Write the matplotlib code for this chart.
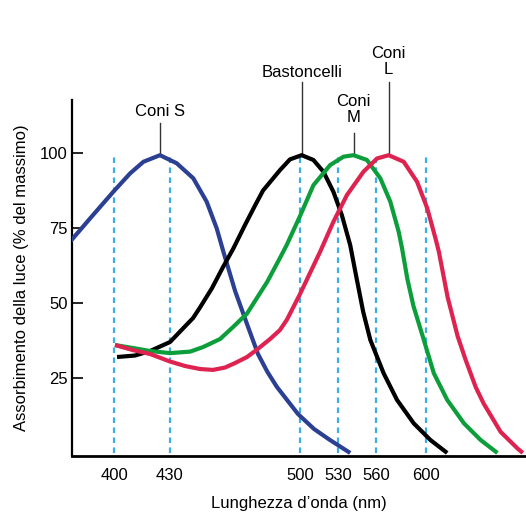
import numpy as np
import matplotlib.pyplot as plt

plt.rcParams['font.family'] = ['Liberation Sans', 'DejaVu Sans']

# Valori (lunghezza d'onda in nm, assorbimento in % del massimo)
coni_s_nm = [376.3, 387.1, 399.6, 408.6, 415.8, 424.7, 433.7, 442.6, 449.8,
             455.2, 458.8, 465.1, 471.5, 477.4, 482.5, 487.6, 498.9, 511.1,
             523.8, 539.7]
coni_s_val = [70.4, 78.2, 87.1, 93.2, 97.1, 99.3, 96.6, 91.6, 83.8, 74.9, 67.1,
              54, 43, 33, 27, 22, 13, 8, 4.3, 0]

bast_nm = [401.6, 411.3, 419.4, 430.1, 435.5, 442.5, 446.2, 452.7, 458.6,
           464.0, 470.4, 475.8, 480.1, 489.2, 494.6, 501.3, 510.6, 518.5,
           526.4, 533.1, 539.7, 544.4, 550, 555.6, 566.1, 576.7, 589.9, 603.2,
           616.4]
bast_val = [32, 32.5, 34, 37, 40.5, 45, 48.5, 55, 62, 68, 76, 82.5, 87.5, 94.3,
            97.9, 99.3, 97.7, 93.8, 87.1, 79.3, 69.3, 59, 47, 37.7, 26.6, 17.7,
            9.9, 4.3, 0]

coni_m_nm = [400.5, 410.2, 419.4, 430.1, 440.9, 447.8, 457.0, 464.0, 471.5,
             482.3, 489.2, 492.8, 500, 510.6, 523.8, 534.4, 542.3, 552.9,
             563.5, 571.4, 578.0, 580.7, 584.9, 589.7, 597.9, 605.8, 616.4,
             629.6, 642.9, 656.1]
coni_m_val = [36, 35, 34, 33.3, 33.8, 35.3, 38, 42, 46.5, 57, 65, 69.3, 79,
              89.3, 96, 98.8, 99.3, 97.7, 91.6, 83.8, 73.8, 68.2, 58, 49, 37.7,
              26.6, 17.7, 9.9, 4.3, 0]

coni_l_nm = [400.5, 410.2, 419.4, 430.1, 438.2, 446.2, 453.2, 459.7, 465.1,
             471.5, 476.9, 483.9, 489.2, 493.0, 500, 515.9, 526.4, 537.1,
             550.2, 560.9, 570.1, 582.0, 592.6, 600.6, 607.1, 609.8, 616.7,
             624.6, 631.0, 638.9, 645.2, 658.7, 672.0, 676.2]
coni_l_val = [36, 34.3, 33, 30.5, 29, 28, 27.7, 28.5, 30, 32, 34.5, 38, 41,
              44.5, 53, 67.1, 77.1, 86, 93.8, 98.2, 99.3, 97.1, 90.4, 81.6,
              71.6, 67.1, 52, 39, 31, 22, 16.5, 7, 1.5, 0]

tick_nm = [400, 430, 500, 530, 560, 600]
y_ticks = [25, 50, 75, 100]

labels = ['Coni S', 'Bastoncelli', 'Coni\nM', 'Coni\nL']
peak_nm = [424.7, 501.3, 542.3, 570.1]
leader_top = [110, 123.7, 106.7, 123.7]
label_y = [113.7, 127, 114.5, 130.5]


def forward(x):
    x = np.asarray(x, dtype=float)
    return np.where(x <= 500, x, 500 + (x - 500) * 0.68)


def inverse(p):
    p = np.asarray(p, dtype=float)
    return np.where(p <= 500, p, 500 + (p - 500) / 0.68)


fig = plt.figure(figsize=(5.26, 5.12), dpi=100)
ax = fig.add_axes([0.1369, 0.1094, 0.8631, 0.6953])
ax.set_xscale('function', functions=(forward, inverse))

for t in tick_nm:
    ax.plot([t, t], [0, 100], color='#3aaee6', lw=1.6, ls=(0, (2.5, 2)), zorder=1)

series = [(coni_s_nm, coni_s_val, '#2b3f93'),
          (bast_nm, bast_val, 'black'),
          (coni_m_nm, coni_m_val, '#0d9e3c'),
          (coni_l_nm, coni_l_val, '#de2350')]
for xs, ys, c in series:
    ax.plot(xs, ys, color=c, lw=3, solid_capstyle='butt',
            solid_joinstyle='round', zorder=3)

for lab, px, top, ty in zip(labels, peak_nm, leader_top, label_y):
    ax.plot([px, px], [99.3, top], color='#333333', lw=1, clip_on=False, zorder=2)
    ax.text(px, ty, lab, ha='center', va='center', fontsize=12,
            linespacing=1.05, clip_on=False)

ax.set_xlim(377.4, 678.7)
ax.set_ylim(-1, 117.7)
ax.set_xticks(tick_nm)
ax.set_xticklabels([str(t) for t in tick_nm])
ax.set_yticks(y_ticks)
ax.xaxis.set_minor_locator(plt.NullLocator())
ax.tick_params(axis='x', length=0, pad=9, labelsize=12)
ax.tick_params(axis='y', direction='in', length=8, width=1.2, pad=3, labelsize=12)

for s in ['top', 'right']:
    ax.spines[s].set_visible(False)
ax.spines['left'].set_linewidth(1.6)
ax.spines['bottom'].set_linewidth(2)

ax.set_xlabel("Lunghezza d\u2019onda (nm)", fontsize=12, labelpad=9)
ax.set_ylabel('Assorbimento della luce (% del massimo)', fontsize=12, labelpad=8)

fig.savefig('out.png', dpi=100)
